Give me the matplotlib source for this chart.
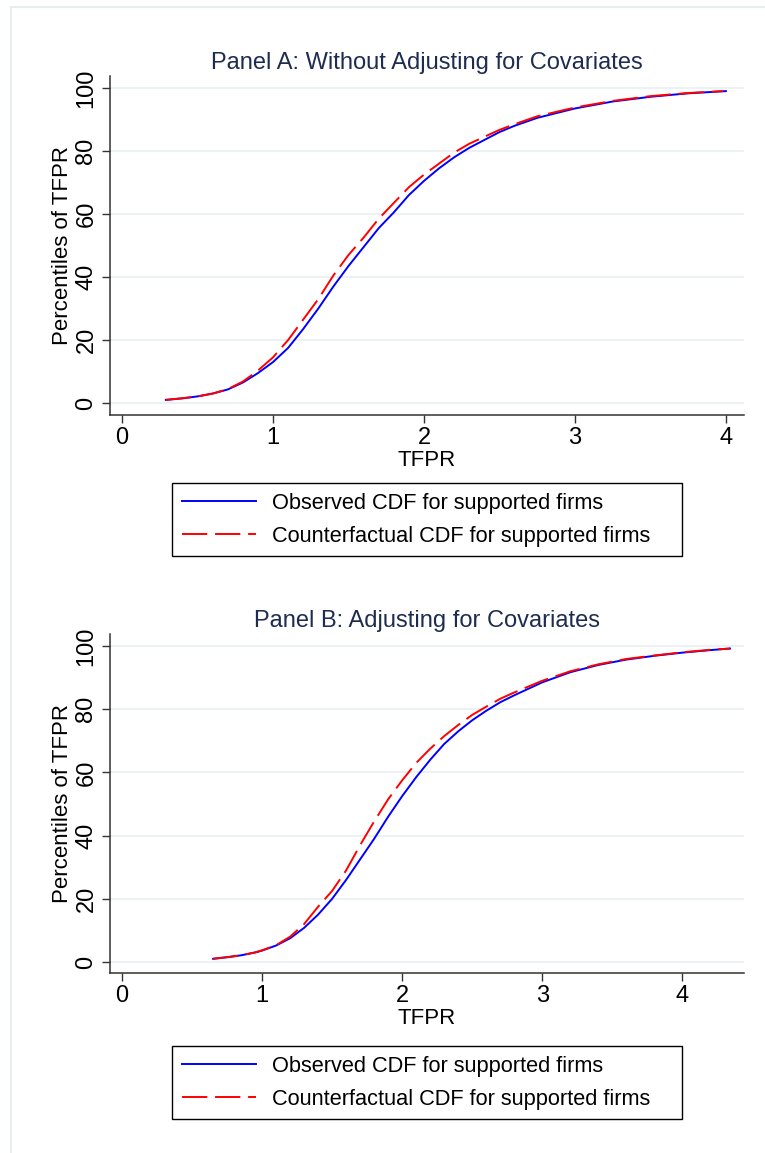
import matplotlib
matplotlib.use('Agg')
import matplotlib.pyplot as plt
from matplotlib.lines import Line2D
import numpy as np

# Panel A: without adjusting for covariates
a_x_obs = [0.29, 0.4, 0.5, 0.6, 0.7, 0.8, 0.9, 1.0, 1.1, 1.2, 1.3, 1.4, 1.5, 1.6, 1.7,
           1.8, 1.9, 2.0, 2.1, 2.2, 2.3, 2.4, 2.5, 2.6, 2.75, 3.0, 3.25, 3.5, 3.75, 4.0]
a_y_obs = [1.0, 1.5, 2.1, 3.0, 4.3, 6.5, 9.5, 13.0, 17.5, 23.5, 30.0, 37.0, 43.5, 49.5, 55.5,
           60.5, 66.0, 70.5, 74.5, 78.0, 81.0, 83.5, 86.0, 88.0, 90.5, 93.5, 95.7, 97.2, 98.3, 99.0]
a_x_cf = [0.29, 0.4, 0.5, 0.6, 0.7, 0.8, 0.9, 1.0, 1.1, 1.2, 1.3, 1.4, 1.5, 1.6, 1.7,
          1.8, 1.9, 2.0, 2.1, 2.2, 2.3, 2.4, 2.5, 2.6, 2.75, 3.0, 3.25, 3.5, 3.75, 3.98]
a_y_cf = [1.0, 1.5, 2.1, 3.0, 4.4, 6.8, 10.3, 14.5, 20.0, 26.5, 33.0, 40.5, 47.0, 52.5, 58.5,
          63.5, 68.5, 72.5, 76.0, 79.5, 82.3, 84.5, 86.7, 88.5, 91.0, 93.8, 95.9, 97.4, 98.4, 99.0]

# Panel B: adjusting for covariates
b_x_obs = [0.65, 0.75, 0.85, 0.95, 1.0, 1.1, 1.2, 1.3, 1.4, 1.5, 1.6, 1.7, 1.8, 1.9, 2.0,
           2.1, 2.2, 2.3, 2.4, 2.5, 2.6, 2.7, 2.8, 3.0, 3.2, 3.4, 3.6, 3.8, 4.0, 4.2, 4.34]
b_y_obs = [1.0, 1.5, 2.1, 3.0, 3.6, 5.2, 7.5, 10.8, 15.0, 20.0, 26.0, 32.5, 39.0, 46.0, 52.5,
           58.5, 64.0, 69.0, 73.0, 76.5, 79.5, 82.2, 84.4, 88.5, 91.7, 94.0, 95.7, 96.9, 97.9, 98.7, 99.2]
b_x_cf = b_x_obs
b_y_cf = [1.0, 1.5, 2.1, 3.0, 3.7, 5.3, 8.0, 12.0, 17.5, 22.5, 29.0, 37.0, 44.5, 51.5, 57.5,
          63.0, 67.5, 71.5, 75.0, 78.2, 80.8, 83.3, 85.3, 89.0, 92.0, 94.2, 95.9, 97.0, 98.0, 98.8, 99.2]

titles = ['Panel A: Without Adjusting for Covariates', 'Panel B: Adjusting for Covariates']
lab_obs = 'Observed CDF for supported firms'
lab_cf = 'Counterfactual CDF for supported firms'
yticks = [0, 20, 40, 60, 80, 100]
xticks = [0, 1, 2, 3, 4]

plt.rcParams['font.family'] = ['Liberation Sans', 'DejaVu Sans']

W, H = 765, 1153
fig = plt.figure(figsize=(W / 100, H / 100), dpi=100)

# light frame round the graph (Stata style)
fig.add_artist(Line2D([11 / W, 11 / W], [0, 1 - 7 / H], color='#e4eaee', lw=1.2))
fig.add_artist(Line2D([11 / W, 1], [1 - 7 / H, 1 - 7 / H], color='#e4eaee', lw=1.2))

panels = [
    (a_x_obs, a_y_obs, a_x_cf, a_y_cf, 76, 415, (-0.08, 4.12), (-3.8, 103.8), 484),
    (b_x_obs, b_y_obs, b_x_cf, b_y_cf, 634, 973, (-0.086, 4.44), (-3.5, 103.8), 1047),
]

for i, (xo, yo, xc, yc, top, bot, xlim, ylim, leg_top) in enumerate(panels):
    ax = fig.add_axes([110 / W, 1 - bot / H, (744 - 110) / W, (bot - top) / H])
    ax.plot(xo, yo, color='#0000ff', lw=1.4, label=lab_obs)
    ax.plot(xc, yc, color='#ff0000', lw=1.4, dashes=(13, 4), label=lab_cf)
    ax.set_xlim(*xlim)
    ax.set_ylim(*ylim)
    ax.set_xticks(xticks)
    ax.set_yticks(yticks)
    ax.grid(axis='y', color='#eaf0f3', lw=1.3)
    ax.set_axisbelow(True)
    for s in ['top', 'right']:
        ax.spines[s].set_visible(False)
    for s in ['left', 'bottom']:
        ax.spines[s].set_color('#333333')
        ax.spines[s].set_linewidth(1.1)
    ax.tick_params(direction='out', length=6, width=1.0, color='#333333', labelsize=17)
    ax.tick_params(axis='x', pad=3)
    ax.tick_params(axis='y', labelrotation=90, pad=3)
    for t in ax.get_yticklabels():
        t.set_va('center')
    ax.set_xlabel('TFPR', fontsize=16, labelpad=0)
    ax.set_ylabel('Percentiles of TFPR', fontsize=16, labelpad=2)
    ax.set_title(titles[i], fontsize=17, color='#1e2d4f', pad=5)

    fig.legend(*ax.get_legend_handles_labels(), loc='upper left',
               bbox_to_anchor=(172 / W, 1 - leg_top / H, 510 / W, 0.001),
               bbox_transform=fig.transFigure, mode='expand', fontsize=15.7,
               handlelength=3.4, handletextpad=0.75, borderpad=0.45, labelspacing=0.55,
               borderaxespad=0, fancybox=False, edgecolor='black', framealpha=1)
    fig.legends[-1].get_frame().set_linewidth(1.0)

fig.savefig('out.png', dpi=100)
